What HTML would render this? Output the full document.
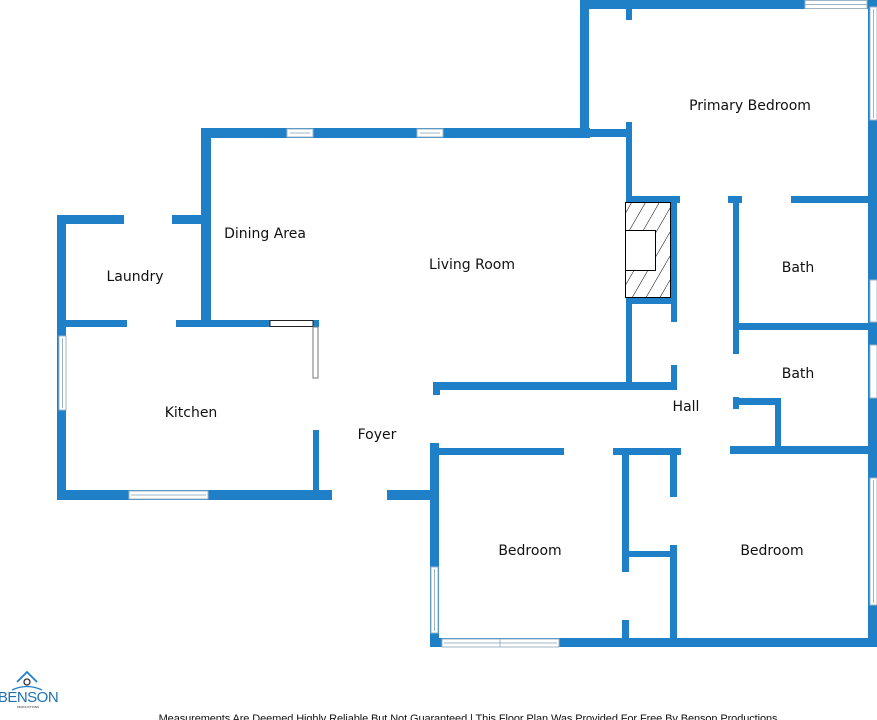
<!DOCTYPE html>
<html><head><meta charset="utf-8"><style>
html,body{margin:0;padding:0;background:#fff;width:877px;height:720px;overflow:hidden}
svg{display:block}
text{font-family:"DejaVu Sans","Liberation Sans",sans-serif;font-size:14px;fill:#111;text-anchor:middle}
</style></head><body>
<svg width="877" height="720" viewBox="0 0 877 720" xmlns="http://www.w3.org/2000/svg">
<defs>
<pattern id="h" patternUnits="userSpaceOnUse" width="12" height="12" patternTransform="rotate(30)">
<line x1="0" y1="0" x2="0" y2="12" stroke="#000" stroke-width="1"/></pattern>
</defs>
<g fill="#1f80c8">
<rect x="580" y="0" width="297" height="9"/>
<rect x="580" y="0" width="9" height="137"/>
<rect x="626" y="0" width="6" height="20"/>
<rect x="626" y="122" width="6" height="80"/>
<rect x="580" y="129" width="52" height="8"/>
<rect x="868" y="0" width="9" height="647"/>
<rect x="626" y="196" width="54" height="7"/>
<rect x="728" y="196" width="14" height="7"/>
<rect x="791" y="196" width="86" height="7"/>
<rect x="671" y="202" width="6" height="120"/>
<rect x="671" y="365" width="6" height="24"/>
<rect x="626" y="298" width="6" height="86"/>
<rect x="626" y="298" width="51" height="6"/>
<rect x="733" y="196" width="6" height="158"/>
<rect x="733" y="397" width="6" height="12"/>
<rect x="733" y="323" width="144" height="7"/>
<rect x="733" y="398" width="48" height="7"/>
<rect x="775" y="398" width="6" height="54"/>
<rect x="201" y="128" width="389" height="10"/>
<rect x="201" y="128" width="10" height="199"/>
<rect x="433" y="382" width="244" height="8"/>
<rect x="433" y="382" width="7" height="13"/>
<rect x="430" y="443" width="9" height="204"/>
<rect x="433" y="448" width="131" height="7"/>
<rect x="613" y="448" width="68" height="7"/>
<rect x="730" y="446" width="147" height="8"/>
<rect x="622" y="454" width="7" height="118"/>
<rect x="622" y="620" width="7" height="20"/>
<rect x="670" y="454" width="7" height="43"/>
<rect x="670" y="545" width="7" height="95"/>
<rect x="622" y="551" width="55" height="6"/>
<rect x="430" y="638" width="447" height="9"/>
<rect x="57" y="215" width="67" height="9"/>
<rect x="172" y="215" width="39" height="9"/>
<rect x="57" y="215" width="9" height="285"/>
<rect x="66" y="320" width="61" height="7"/>
<rect x="176" y="320" width="94" height="7"/>
<rect x="313" y="320" width="6" height="7"/>
<rect x="313" y="430" width="6" height="70"/>
<rect x="57" y="490" width="275" height="10"/>
<rect x="387" y="490" width="52" height="10"/>
</g>
<g fill="#fff" stroke="#9fb4c4" stroke-width="1">
<rect x="805" y="0.5" width="62" height="8"/><line x1="805" y1="4.5" x2="867" y2="4.5"/>
<rect x="287" y="129" width="26" height="8"/><line x1="290" y1="133" x2="310" y2="133"/>
<rect x="417" y="129" width="26" height="8"/><line x1="420" y1="133" x2="440" y2="133"/>
<rect x="59" y="336" width="7" height="74"/><line x1="62.5" y1="338" x2="62.5" y2="408"/>
<rect x="129" y="491" width="79" height="8"/><line x1="131" y1="495" x2="206" y2="495"/>
<rect x="431" y="567" width="7" height="66"/><line x1="434.5" y1="569" x2="434.5" y2="631"/>
<rect x="442" y="639" width="58" height="8"/><rect x="500" y="639" width="59" height="8"/>
<line x1="444" y1="643" x2="557" y2="643"/>
<rect x="870" y="7" width="7" height="113"/><line x1="873.5" y1="9" x2="873.5" y2="118"/>
<rect x="870" y="280" width="7" height="42"/>
<rect x="870" y="345" width="7" height="53"/>
<rect x="870" y="478" width="7" height="127"/><line x1="873.5" y1="480" x2="873.5" y2="603"/>
</g>
<rect x="270" y="320.5" width="43" height="6" fill="#fff" stroke="#222" stroke-width="1"/>
<rect x="313" y="327" width="5" height="51" fill="#fff" stroke="#777" stroke-width="1"/>
<rect x="625.5" y="202.5" width="45" height="95" fill="url(#h)" stroke="#000"/>
<rect x="625.5" y="230.5" width="30" height="40" fill="#fff" stroke="#000"/>
<text x="750" y="110">Primary Bedroom</text>
<text x="798" y="272">Bath</text>
<text x="798" y="378">Bath</text>
<text x="686" y="411">Hall</text>
<text x="472" y="269">Living Room</text>
<text x="265" y="238">Dining Area</text>
<text x="135" y="281">Laundry</text>
<text x="191" y="417">Kitchen</text>
<text x="377" y="439">Foyer</text>
<text x="530" y="555">Bedroom</text>
<text x="772" y="555">Bedroom</text>
<path d="M17 682 L27 672 L37 682" fill="none" stroke="#1f80c8" stroke-width="1.8"/>
<circle cx="27" cy="682" r="3" fill="none" stroke="#333" stroke-width="1.3"/>
<path d="M12 690 Q27 683 42 690" fill="none" stroke="#1f80c8" stroke-width="1.3"/>
<text x="28" y="702" style="font-size:15px;fill:#1f70b0;font-family:'Liberation Sans',sans-serif;letter-spacing:-0.5px">BENSON</text>
<text x="28" y="708" style="font-size:3px;fill:#333">PRODUCTIONS</text>
<text x="468" y="722" style="font-size:11px;fill:#111;font-family:'Liberation Sans',sans-serif;letter-spacing:-0.1px">Measurements Are Deemed Highly Reliable But Not Guaranteed | This Floor Plan Was Provided For Free By Benson Productions</text>
</svg>
</body></html>
